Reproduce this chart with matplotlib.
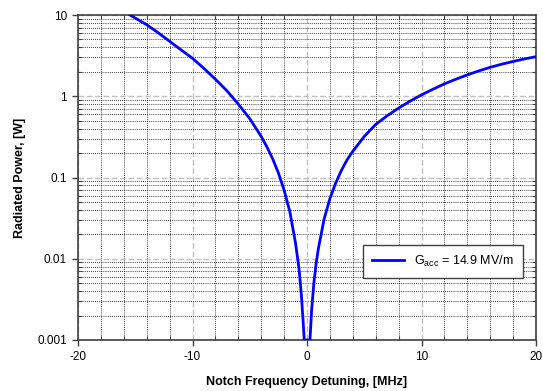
import matplotlib
matplotlib.use("Agg")
import matplotlib.pyplot as plt
from matplotlib.ticker import FixedLocator, LogLocator, NullFormatter, FixedFormatter

plt.rcParams['font.family'] = ['Liberation Sans', 'DejaVu Sans']
plt.rcParams['axes.unicode_minus'] = False

detuning = [-15.46, -14, -13, -12, -11, -10, -9, -8, -7, -6, -5, -4, -3.5, -3, -2.5,
            -2, -1.5, -1.0, -0.7, -0.5, -0.35, -0.24,
            0.26, 0.4, 0.6, 0.8, 1.0, 1.5, 2.0, 2.5, 3.0, 3.5, 4, 5, 6, 7, 8, 9, 10,
            11, 12, 13, 14, 15, 16, 17, 18, 19, 20]
power = [10.0, 7.6, 6.05, 4.75, 3.72, 2.93, 2.2, 1.62, 1.17, 0.80, 0.53, 0.32, 0.238, 0.17, 0.114,
         0.070, 0.038, 0.0155, 0.0076, 0.0037, 0.0018, 0.001,
         0.001, 0.0023, 0.0050, 0.0088, 0.0135, 0.031, 0.055, 0.085, 0.122, 0.165, 0.21, 0.32, 0.45,
         0.575, 0.715, 0.87, 1.04,
         1.22, 1.42, 1.62, 1.83, 2.05, 2.27, 2.48, 2.68, 2.88, 3.07]

x_ticks = [-20, -10, 0, 10, 20]
y_ticks = [0.001, 0.01, 0.1, 1, 10]
y_labels = ['0.001', '0.01', '0.1', '1', '10']
legend_label = r'G$_{\mathregular{acc}}$ = 14.9 MV/m'

fig = plt.figure(figsize=(5.43, 3.91), dpi=100)
W, H = 543, 391
ax = fig.add_axes([78 / W, 1 - 340 / H, (536 - 78) / W, (340 - 15) / H])

ax.plot(detuning, power, color='#0000ff', lw=2.0, label=legend_label, zorder=5)

ax.set_yscale('log')
ax.set_xlim(-20, 20)
ax.set_ylim(0.001, 10)

ax.xaxis.set_major_locator(FixedLocator(x_ticks))
ax.xaxis.set_minor_locator(FixedLocator([v for v in range(-20, 21, 2) if v % 10 != 0]))
ax.yaxis.set_major_locator(FixedLocator(y_ticks))
ax.yaxis.set_major_formatter(FixedFormatter(y_labels))
ax.yaxis.set_minor_locator(LogLocator(base=10, subs=range(2, 10)))
ax.yaxis.set_minor_formatter(NullFormatter())

ax.grid(True, which='major', color='#c0c0c0', linestyle=(0, (4, 2)), lw=1.0, zorder=1)
ax.grid(True, which='minor', color='black', linestyle=(0, (1, 1.5)), lw=0.6, zorder=1)

ax.tick_params(which='major', direction='out', length=4, width=1, labelsize=8.5,
               color='#404040', pad=4)
ax.tick_params(which='minor', direction='in', length=3, width=0.8, color='#404040',
               top=True, right=True)

for s in ax.spines.values():
    s.set_color('#404040')
    s.set_linewidth(1.2)

ax.set_xlabel('Notch Frequency Detuning, [MHz]', fontsize=9, fontweight='bold', labelpad=9)
ax.set_ylabel('Radiated Power, [W]', fontsize=9, fontweight='bold', labelpad=8)

leg = ax.legend(loc='upper left', bbox_to_anchor=((363 - 78) / 458, 1 - (245 - 15) / 325),
                fontsize=9, frameon=True, fancybox=False, edgecolor='#404040',
                framealpha=1, handlelength=2.6, borderpad=0.7, borderaxespad=0)
leg.get_frame().set_linewidth(1.0)

fig.savefig('out.png', dpi=100)
